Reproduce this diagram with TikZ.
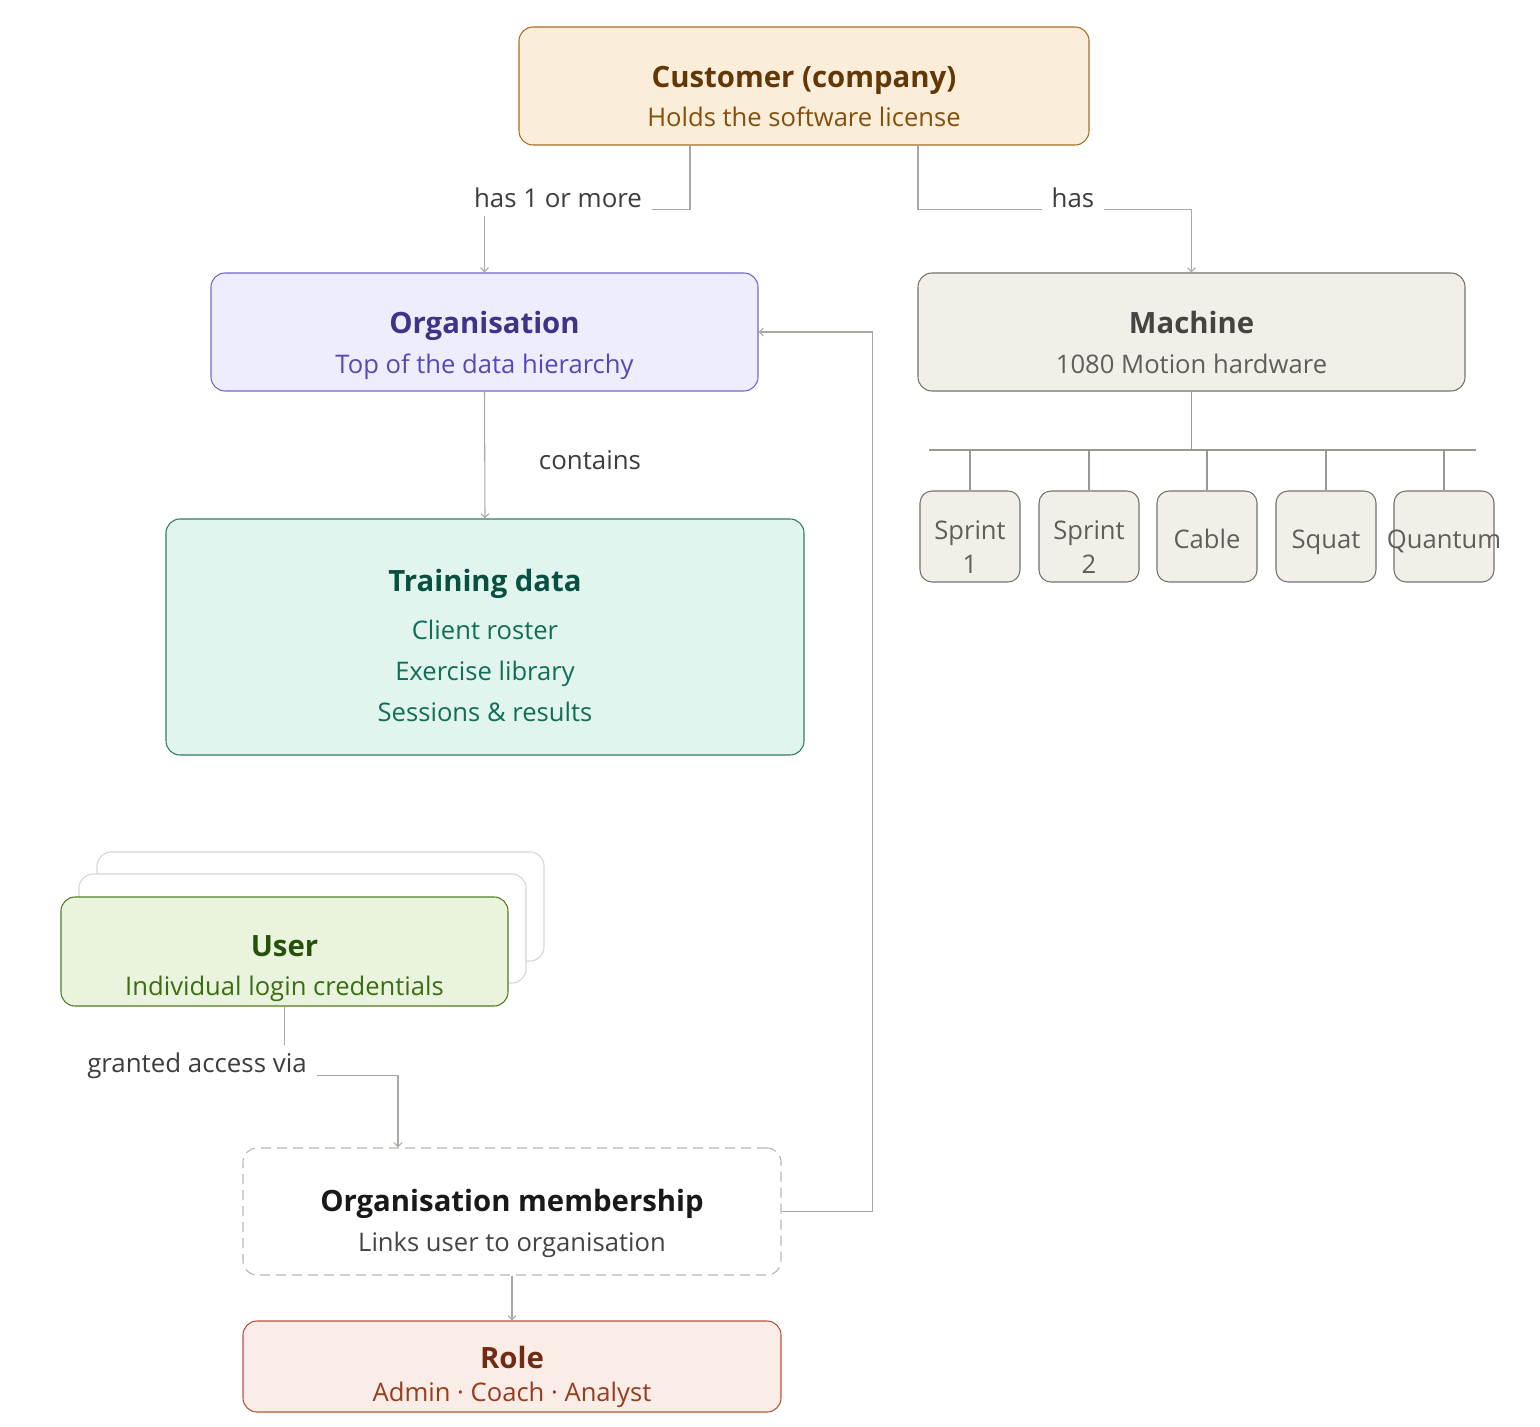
\documentclass[tikz,border=0pt]{standalone}
\usepackage{fontspec}
\setmainfont{Open Sans}
\usetikzlibrary{arrows.meta}
\definecolor{amberF}{HTML}{FAEEDA}\definecolor{amberS}{HTML}{A86E26}\definecolor{amberT}{HTML}{633806}\definecolor{amberU}{HTML}{854F0B}
\definecolor{purpF}{HTML}{EEEDFE}\definecolor{purpS}{HTML}{6F67D2}\definecolor{purpT}{HTML}{3C3489}\definecolor{purpU}{HTML}{534AB7}
\definecolor{grayF}{HTML}{F1EFE8}\definecolor{grayS}{HTML}{74736E}\definecolor{grayT}{HTML}{444441}\definecolor{grayU}{HTML}{5F5E5A}
\definecolor{tealF}{HTML}{E1F5EE}\definecolor{tealS}{HTML}{2F7D62}\definecolor{tealT}{HTML}{085041}\definecolor{tealU}{HTML}{0F6E56}
\definecolor{grnF}{HTML}{EAF3DE}\definecolor{grnS}{HTML}{4E7F22}\definecolor{grnT}{HTML}{27500A}\definecolor{grnU}{HTML}{3B6D11}
\definecolor{corF}{HTML}{FAECE7}\definecolor{corS}{HTML}{B0553A}\definecolor{corT}{HTML}{712B13}\definecolor{corU}{HTML}{993C1D}
\definecolor{lineC}{HTML}{ABA9A2}\definecolor{treeC}{HTML}{9A9891}\definecolor{ghostC}{HTML}{D8D6D0}\definecolor{dashC}{HTML}{B9B7B0}
\definecolor{labC}{HTML}{3D3D3A}
\tikzset{
  box/.style={draw, rounded corners=10.5pt, line width=0.8pt, inner sep=0pt},
  ttl/.style={anchor=base, inner sep=0pt, font=\fontsize{22}{26}\selectfont\bfseries},
  sub/.style={anchor=base, inner sep=0pt, font=\fontsize{19.2}{23}\selectfont},
  conn/.style={draw=lineC, line width=0.8pt, -{Straight Barb[length=3pt,width=6pt]}},
  tree/.style={draw=treeC, line width=0.8pt},
  elab/.style={font=\fontsize{19.4}{23}\selectfont, text=labC, inner xsep=7.5pt, inner ysep=6pt},
  kid/.style={box, rounded corners=9pt, fill=grayF, draw=grayS, minimum width=75pt, minimum height=68.25pt},
  kidt/.style={anchor=base, inner sep=0pt, text=grayU, font=\fontsize{19.2}{23}\selectfont},
}
\begin{document}
\begin{tikzpicture}[x=0.75pt,y=-0.75pt]
\useasboundingbox[fill=white] (0,0) rectangle (1540,1426);
% customer
\node[box, fill=amberF, draw=amberS, minimum width=427.5pt, minimum height=88.5pt] (cust) at (804,86) {};
\node[ttl, text=amberT] (custT) at (804,88) {Customer (company)};
\node[sub, text=amberU] (custS) at (804,127) {Holds the software license};
% organisation
\node[box, fill=purpF, draw=purpS, minimum width=410.25pt, minimum height=88.5pt] (org) at (484.5,332) {};
\node[ttl, text=purpT] (orgT) at (484.5,334) {Organisation};
\node[sub, text=purpU] (orgS) at (484.5,373) {Top of the data hierarchy};
% machine
\node[box, fill=grayF, draw=grayS, minimum width=410.25pt, minimum height=88.5pt] (mach) at (1191.5,332) {};
\node[ttl, text=grayT] (machT) at (1191.5,334) {Machine};
\node[sub, text=grayU] (machS) at (1191.5,373) {1080 Motion hardware};
% training data
\node[box, fill=tealF, draw=tealS, minimum width=478.5pt, minimum height=177pt] (train) at (485,637) {};
\node[ttl, text=tealT] (trainT) at (485,591) {Training data};
\node[sub, text=tealU] (trainA) at (485,639) {Client roster};
\node[sub, text=tealU] (trainB) at (485,680) {Exercise library};
\node[sub, text=tealU] (trainC) at (485,721) {Sessions \& results};
% user stack
\node[box, fill=white, draw=ghostC, minimum width=335.25pt, minimum height=81.75pt] (userB) at (320.5,906.5) {};
\node[box, fill=white, draw=ghostC, minimum width=335.25pt, minimum height=81.75pt] (userM) at (302.5,928.5) {};
\node[box, fill=grnF, draw=grnS, minimum width=335.25pt, minimum height=81.75pt] (user) at (284.5,951.5) {};
\node[ttl, text=grnT] (userT) at (284.5,956) {User};
\node[sub, text=grnU] (userS) at (284.5,995) {Individual login credentials};
% membership
\node[box, fill=white, draw=dashC, dash pattern=on 7.5pt off 4.5pt, minimum width=403.5pt, minimum height=95.25pt] (memb) at (512,1211.5) {};
\node[ttl, text=black!90] (membT) at (512,1211) {Organisation membership};
\node[sub, text=grayT] (membS) at (512,1251) {Links user to organisation};
% role
\node[box, fill=corF, draw=corS, minimum width=403.5pt, minimum height=68.25pt] (role) at (512,1366.5) {};
\node[ttl, text=corT] (roleT) at (512,1368) {Role};
\node[sub, text=corU] (roleS) at (512,1401) {Admin · Coach · Analyst};
% machine children
\node[kid] (k1) at (970,536.5) {};
\node[kid] (k2) at (1089,536.5) {};
\node[kid] (k3) at (1207,536.5) {};
\node[kid] (k4) at (1326,536.5) {};
\node[kid] (k5) at (1444,536.5) {};
\node[kidt] (k1a) at (970,539) {Sprint};
\node[kidt] (k1b) at (970,573) {1};
\node[kidt] (k2a) at (1089,539) {Sprint};
\node[kidt] (k2b) at (1089,573) {2};
\node[kidt] (k3t) at (1207,548) {Cable};
\node[kidt] (k4t) at (1326,548) {Squat};
\node[kidt] (k5t) at (1444,548) {Quantum};
\coordinate (busL) at (929,450);
\coordinate (busR) at (1476,450);
\draw[tree] (mach.south) -- (mach.south |- busL);
\draw[tree] (busL) -- (busR);
\foreach \k in {k1,k2,k3,k4,k5}{\draw[tree] (\k.north) -- (\k.north |- busL);}
% connectors
\draw[conn] ([xshift=-85.5pt]cust.south) -- ++(0,64) -| (org.north);
\node[elab, fill=white] (l1) at (558,198) {has 1 or more};
\draw[conn] ([xshift=85.5pt]cust.south) -- ++(0,64) -| (mach.north);
\node[elab, fill=white] (l2) at (1073,198) {has};
\draw[conn] (org.south) -- (train.north);
\node[elab] (l3) at (590,460) {contains};
\draw[conn] (memb.east) -- ++(91,0) |- (org.east);
\draw[conn] (user.south) -- ++(0,69) -| ([xshift=-85.5pt]memb.north);
\node[elab, fill=white] (l4) at (197,1066) {granted access via};
\draw[conn] (memb.south) -- (role.north);
\end{tikzpicture}
\end{document}
